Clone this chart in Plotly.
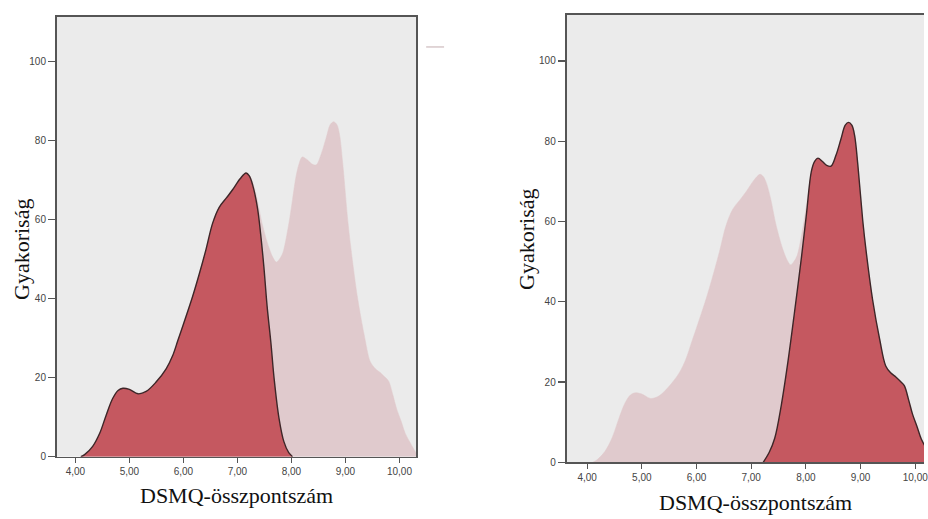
import plotly.graph_objects as go

W, H = 928, 519

# ---------------- data ----------------
x_ticks = [4, 5, 6, 7, 8, 9, 10]
x_tick_labels = ["4,00", "5,00", "6,00", "7,00", "8,00", "9,00", "10,00"]
y_ticks = [0, 20, 40, 60, 80, 100]
y_tick_labels = ["0", "20", "40", "60", "80", "100"]

# Group with lower DSMQ score (highlighted in left panel)
low_x = [4.10, 4.17, 4.32, 4.45, 4.57, 4.69, 4.79, 4.88, 5.00, 5.16, 5.31, 5.49, 5.68,
         5.80, 5.90, 6.00, 6.17, 6.30, 6.42, 6.54, 6.66, 6.80, 6.91, 7.05, 7.16, 7.22,
         7.28, 7.37, 7.43, 7.49, 7.55, 7.62, 7.68, 7.77, 7.86, 7.95, 8.02]
low_y = [0, 0.5, 2.6, 5.9, 10.5, 14.7, 16.75, 17.3, 17.0, 15.9, 16.5, 18.8, 22.2,
         25.5, 29.5, 33.5, 40.5, 46.5, 52.5, 59.0, 63.0, 65.5, 67.5, 70.3, 71.75, 71.0,
         68.8, 63.0, 56.3, 48.0, 38.0, 28.8, 19.7, 9.7, 3.8, 1.0, 0]

# Group with higher DSMQ score (highlighted in right panel)
high_x = [7.22, 7.33, 7.43, 7.55, 7.67, 7.79, 7.92, 8.01, 8.10, 8.16, 8.22, 8.30, 8.38,
          8.46, 8.55, 8.64, 8.72, 8.78, 8.84, 8.89, 8.95, 9.04, 9.10, 9.22, 9.35, 9.46,
          9.55, 9.65, 9.74, 9.80, 9.88, 9.95, 10.03, 10.11, 10.20, 10.29, 10.35]
high_y = [0, 2.5, 6.0, 14.2, 24.9, 37.2, 51.2, 61.8, 72.5, 75.0, 75.8, 75.0, 74.0,
          73.8, 76.5, 80.5, 84.0, 84.7, 84.0, 81.5, 74.1, 60.2, 52.8, 40.5, 30.6, 24.0,
          22.3, 21.2, 20.0, 19.1, 15.5, 12.0, 9.0, 5.8, 3.5, 1.3, 0]

# Whole sample (pale background shape in both panels)
all_x = [4.10, 4.17, 4.32, 4.45, 4.57, 4.69, 4.79, 4.88, 5.00, 5.16, 5.31, 5.49, 5.68,
         5.80, 5.90, 6.00, 6.17, 6.30, 6.42, 6.54, 6.66, 6.80, 6.91, 7.05, 7.16, 7.22,
         7.28, 7.35, 7.46, 7.58, 7.66, 7.72, 7.78, 7.84, 7.95, 8.02, 8.08, 8.14, 8.20,
         8.30, 8.38, 8.46, 8.55, 8.64, 8.72, 8.78, 8.84, 8.89, 8.95, 9.04, 9.10, 9.22,
         9.35, 9.46, 9.55, 9.65, 9.74, 9.80, 9.88, 9.95, 10.03, 10.11, 10.20, 10.29, 10.35]
all_y = [0, 0.5, 2.6, 5.9, 10.5, 14.7, 16.75, 17.3, 17.0, 15.9, 16.5, 18.8, 22.2,
         25.5, 29.5, 33.5, 40.5, 46.5, 52.5, 59.0, 63.0, 65.5, 67.5, 70.3, 71.75, 71.2,
         69.5, 66.0, 58.8, 53.0, 50.3, 49.2, 50.0, 51.5, 58.8, 65.0, 70.5, 74.0, 75.8,
         75.0, 74.0, 73.8, 76.5, 80.5, 84.0, 84.7, 84.0, 81.5, 74.1, 60.2, 52.8, 40.5,
         30.6, 24.0, 22.3, 21.2, 20.0, 19.1, 15.5, 12.0, 9.0, 5.8, 3.5, 1.3, 0]

x_title = "DSMQ-összpontszám"
y_title = "Gyakoriság"

# ---------------- style ----------------
RED = "rgb(197,88,96)"
PINK = "rgb(224,202,205)"
OUTLINE = "rgb(62,38,40)"
BG = "rgb(235,235,235)"
AXIS = "#555555"
TICKFONT = dict(family="Liberation Sans, Arial, sans-serif", size=10, color="#444444")
TITLEFONT = dict(family="Liberation Serif, Times New Roman, serif", size=22, color="#111111")


def px_x(p):
    return p / W


def px_y(p):
    return 1 - p / H


fig = go.Figure()

# left panel: whole sample pale, low group highlighted
fig.add_trace(go.Scatter(x=all_x, y=all_y, xaxis="x", yaxis="y", mode="lines",
                         line=dict(color=PINK, width=0.5, shape="spline", smoothing=0.9),
                         fill="tozeroy", fillcolor=PINK, hoverinfo="skip"))
fig.add_trace(go.Scatter(x=low_x, y=low_y, xaxis="x", yaxis="y", mode="lines",
                         line=dict(color=OUTLINE, width=1.4, shape="spline", smoothing=1.0),
                         fill="tozeroy", fillcolor=RED, hoverinfo="skip"))

# right panel: whole sample pale, high group highlighted
fig.add_trace(go.Scatter(x=all_x, y=all_y, xaxis="x2", yaxis="y2", mode="lines",
                         line=dict(color=PINK, width=0.5, shape="spline", smoothing=0.9),
                         fill="tozeroy", fillcolor=PINK, hoverinfo="skip"))
fig.add_trace(go.Scatter(x=high_x, y=high_y, xaxis="x2", yaxis="y2", mode="lines",
                         line=dict(color=OUTLINE, width=1.4, shape="spline", smoothing=1.0),
                         fill="tozeroy", fillcolor=RED, hoverinfo="skip"))

common_x = dict(tickmode="array", tickvals=x_ticks, ticktext=x_tick_labels,
                ticks="outside", ticklen=5, tickwidth=1.2, tickcolor=AXIS,
                showline=True, linecolor=AXIS, linewidth=1.8, mirror=True,
                showgrid=False, zeroline=False, tickfont=TICKFONT, fixedrange=True,
                ticklabeloverflow="allow")
common_y = dict(tickmode="array", tickvals=y_ticks, ticktext=y_tick_labels,
                ticks="outside", ticklen=7, tickwidth=1.2, tickcolor=AXIS,
                showline=True, linecolor=AXIS, linewidth=1.8,
                showgrid=False, zeroline=False, tickfont=TICKFONT, fixedrange=True)

fig.update_layout(
    width=W, height=H,
    margin=dict(l=0, r=0, t=0, b=0),
    paper_bgcolor="white", plot_bgcolor=BG,
    showlegend=False,
    xaxis=dict(domain=[px_x(57), px_x(418)], range=[3.655, 10.31], anchor="y", **common_x),
    yaxis=dict(domain=[px_y(462), px_y(17)], range=[0, 111.25], anchor="x", mirror=True, **common_y),
    xaxis2=dict(domain=[px_x(569), 1.0], range=[3.623, 10.16], anchor="y2", **common_x),
    yaxis2=dict(domain=[px_y(467.7), px_y(15)], range=[0, 111.5], anchor="x2", mirror=False, **common_y),
)

# right panel has its own plot background
fig.add_shape(type="rect", xref="x2 domain", yref="y2 domain", x0=0, x1=1, y0=0, y1=1,
              fillcolor=BG, line=dict(width=0), layer="below")

annotations = [
    dict(text=x_title, x=px_x(238), y=px_y(501), xref="paper", yref="paper",
         xanchor="center", yanchor="middle", showarrow=False, font=TITLEFONT),
    dict(text=x_title, x=px_x(759), y=px_y(508), xref="paper", yref="paper",
         xanchor="center", yanchor="middle", showarrow=False, font=TITLEFONT),
    dict(text=y_title, x=px_x(21), y=px_y(252), xref="paper", yref="paper",
         xanchor="center", yanchor="middle", showarrow=False, font=TITLEFONT, textangle=-90),
    dict(text=y_title, x=px_x(528), y=px_y(242), xref="paper", yref="paper",
         xanchor="center", yanchor="middle", showarrow=False, font=TITLEFONT, textangle=-90),
]
fig.update_layout(annotations=annotations)

# small faint dash to the right of the left panel
fig.add_shape(type="line", xref="paper", yref="paper",
              x0=px_x(428), x1=px_x(446), y0=px_y(47.5), y1=px_y(47.5),
              line=dict(color="rgb(215,200,202)", width=1.5))

fig.write_html("out.html", config={"displayModeBar": False, "staticPlot": True},
               post_script="document.body.style.margin='0';document.body.style.overflow='hidden';")
